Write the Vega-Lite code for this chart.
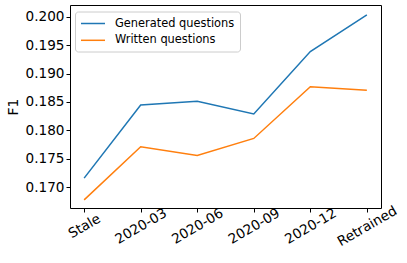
{
  "$schema": "https://vega.github.io/schema/vega-lite/v6.json",
  "autosize": "none",
  "width": 311,
  "height": 203,
  "padding": {"left": 70, "top": 5, "right": 26, "bottom": 55},
  "config": {
    "view": {"stroke": "#000000", "strokeWidth": 1},
    "font": "DejaVu Sans",
    "axis": {"grid": false, "domain": false, "tickColor": "#000000", "labelColor": "#000000", "titleColor": "#000000", "labelFont": "DejaVu Sans", "titleFont": "DejaVu Sans"}
  },
  "data": {
    "values": [
      {"period": "Stale", "series": "Generated questions", "f1": 0.17159},
      {"period": "2020-03", "series": "Generated questions", "f1": 0.18447},
      {"period": "2020-06", "series": "Generated questions", "f1": 0.18511},
      {"period": "2020-09", "series": "Generated questions", "f1": 0.18288},
      {"period": "2020-12", "series": "Generated questions", "f1": 0.19388},
      {"period": "Retrained", "series": "Generated questions", "f1": 0.20035},
      {"period": "Stale", "series": "Written questions", "f1": 0.16776},
      {"period": "2020-03", "series": "Written questions", "f1": 0.17711},
      {"period": "2020-06", "series": "Written questions", "f1": 0.17558},
      {"period": "2020-09", "series": "Written questions", "f1": 0.17858},
      {"period": "2020-12", "series": "Written questions", "f1": 0.18770},
      {"period": "Retrained", "series": "Written questions", "f1": 0.18705}
    ]
  },
  "mark": {"type": "line", "strokeWidth": 1.5},
  "encoding": {
    "x": {
      "field": "period",
      "type": "ordinal",
      "scale": {"type": "point", "padding": 0.25, "domain": ["Stale", "2020-03", "2020-06", "2020-09", "2020-12", "Retrained"]},
      "axis": {
        "title": null,
        "labelAngle": -30,
        "labelAlign": "center",
        "labelBaseline": "middle",
        "labelPadding": 14,
        "tickSize": 4,
        "labelFontSize": 13.6
      }
    },
    "y": {
      "field": "f1",
      "type": "quantitative",
      "scale": {"domain": [0.16633, 0.20208], "nice": false, "zero": false},
      "axis": {
        "title": "F1",
        "titleFontSize": 14,
        "titleFontWeight": "normal",
        "titlePadding": 5,
        "values": [0.170, 0.175, 0.180, 0.185, 0.190, 0.195, 0.200],
        "format": ".3f",
        "labelFontSize": 13.6,
        "tickSize": 4,
        "labelPadding": 2
      }
    },
    "color": {
      "field": "series",
      "type": "nominal",
      "scale": {"domain": ["Generated questions", "Written questions"], "range": ["#1f77b4", "#ff7f0e"]},
      "legend": {
        "title": null,
        "orient": "none",
        "legendX": 5,
        "legendY": 6.5,
        "padding": 5,
        "strokeColor": "#cccccc",
        "fillColor": "rgba(255,255,255,0.8)",
        "cornerRadius": 3,
        "symbolType": "M-1,0H3",
        "symbolSize": 144,
        "symbolStrokeWidth": 1.5,
        "labelFont": "DejaVu Sans",
        "labelFontSize": 11.4,
        "labelColor": "#000000",
        "labelOffset": 21,
        "rowPadding": 3.8
      }
    }
  }
}
